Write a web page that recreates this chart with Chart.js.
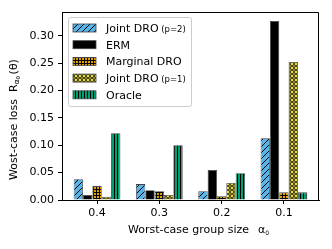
<!DOCTYPE html>
<html>
<head>
<meta charset="utf-8">
<script src="https://cdn.jsdelivr.net/npm/chart.js@4.4.0/dist/chart.umd.min.js"></script>
<style>
  html, body { margin: 0; padding: 0; background: #fff; }
  #wrap { width: 332px; height: 249px; }
</style>
</head>
<body>
<div id="wrap"><canvas id="myChart"></canvas></div>
<script>
// values
const groupSizes = ['0.4', '0.3', '0.2', '0.1'];
const seriesNames = ['Joint DRO (p=2)', 'ERM', 'Marginal DRO', 'Joint DRO (p=1)', 'Oracle'];
const jointDroP2 = [0.038, 0.029, 0.016, 0.113];
const erm = [0.009, 0.018, 0.055, 0.327];
const marginalDro = [0.026, 0.016, 0.007, 0.014];
const jointDroP1 = [0.006, 0.009, 0.031, 0.252];
const oracle = [0.122, 0.100, 0.049, 0.014];
const yTicks = [0, 0.05, 0.10, 0.15, 0.20, 0.25, 0.30];

Chart.defaults.font.family = 'DejaVu Sans';
Chart.defaults.color = '#000';

// hatch fills, like matplotlib hatches
function hatch(color, kind) {
  const s = kind === 'diag' ? 6 : (kind === 'ring' ? 4 : 3);
  const c = document.createElement('canvas');
  c.width = s; c.height = s;
  const g = c.getContext('2d');
  g.fillStyle = color;
  g.fillRect(0, 0, s, s);
  g.fillStyle = '#000';
  g.strokeStyle = '#000';
  g.lineWidth = 1;
  if (kind === 'diag') {
    g.beginPath();
    g.moveTo(-1, s + 1); g.lineTo(s + 1, -1);
    g.moveTo(-1, 1); g.lineTo(1, -1);
    g.moveTo(s - 1, s + 1); g.lineTo(s + 1, s - 1);
    g.stroke();
  } else if (kind === 'plus') {
    g.fillRect(0, 0, s, 1);
    g.fillRect(0, 0, 1, s);
  } else if (kind === 'vline') {
    g.fillRect(0, 0, 1, s);
  } else if (kind === 'ring') {
    g.lineWidth = 0.9;
    g.beginPath();
    g.arc(2, 2, 1.4, 0, Math.PI * 2);
    g.stroke();
  }
  return g.createPattern(c, 'repeat');
}

const fills = [
  hatch('#56B4E9', 'diag'),
  '#000000',
  hatch('#E69F00', 'plus'),
  hatch('#F0E442', 'ring'),
  hatch('#009E73', 'vline')
];
const allValues = [jointDroP2, erm, marginalDro, jointDroP1, oracle];

const datasets = allValues.map((vals, k) => ({
  label: seriesNames[k],
  data: vals.map((v, i) => ({ x: i, y: v })),
  backgroundColor: fills[k],
  borderColor: '#444',
  borderWidth: 0.8,
  categoryPercentage: 0.75,
  barPercentage: 1.0
}));

// box, axis labels and legend, drawn the matplotlib way
const extras = {
  id: 'extras',
  afterDraw(chart) {
    const ctx = chart.ctx;
    const a = chart.chartArea;
    ctx.save();
    ctx.strokeStyle = '#000';
    ctx.lineWidth = 1;
    ctx.beginPath();
    ctx.moveTo(a.left, a.top + 0.5);
    ctx.lineTo(a.right - 0.5, a.top + 0.5);
    ctx.lineTo(a.right - 0.5, a.bottom);
    ctx.stroke();

    ctx.fillStyle = '#000';
    ctx.textAlign = 'left';
    ctx.textBaseline = 'alphabetic';

    // x label
    ctx.font = '11px "DejaVu Sans"';
    let x = a.left + 66;
    const xl = 'Worst-case group size';
    ctx.fillText(xl, x, 233);
    x += ctx.measureText(xl).width + 9;
    ctx.fillText('α', x, 233);
    x += ctx.measureText('α').width;
    ctx.font = '6px "DejaVu Sans"';
    ctx.fillText('0', x, 235);

    // y label
    ctx.save();
    ctx.translate(16.5, 180);
    ctx.rotate(-Math.PI / 2);
    ctx.font = '11px "DejaVu Sans"';
    let p = 0;
    ctx.fillText('Wost-case loss', p, 0);
    p += ctx.measureText('Wost-case loss').width + 7;
    ctx.fillText('R', p, 0);
    p += ctx.measureText('R').width;
    ctx.font = '7.5px "DejaVu Sans"';
    ctx.fillText('α', p, 2);
    p += ctx.measureText('α').width;
    ctx.font = '5.5px "DejaVu Sans"';
    ctx.fillText('0', p, 3.5);
    p += ctx.measureText('0').width + 1.5;
    ctx.font = '11px "DejaVu Sans"';
    ctx.fillText('(θ)', p, 0);
    ctx.restore();

    // legend
    const lx = a.left + 6, ly = a.top + 5, lw = 123, lh = 89;
    ctx.fillStyle = 'rgba(255,255,255,0.8)';
    ctx.strokeStyle = '#cccccc';
    ctx.beginPath();
    ctx.roundRect(lx + 0.5, ly + 0.5, lw, lh, 2);
    ctx.fill();
    ctx.stroke();
    chart.data.datasets.forEach((ds, k) => {
      const cy = ly + 11 + k * 16.7;
      ctx.fillStyle = ds.backgroundColor;
      ctx.fillRect(lx + 5, cy - 4, 23, 8);
      ctx.strokeStyle = '#444';
      ctx.lineWidth = 0.8;
      ctx.strokeRect(lx + 5, cy - 4, 23, 8);
      ctx.fillStyle = '#000';
      const parts = ds.label.split(' (');
      ctx.font = '11px "DejaVu Sans"';
      ctx.fillText(parts[0], lx + 38, cy + 4);
      if (parts.length > 1) {
        const w = ctx.measureText(parts[0]).width;
        ctx.font = '8.5px "DejaVu Sans"';
        ctx.fillText(' (' + parts[1], lx + 38 + w, cy + 4);
      }
    });
    ctx.restore();
  }
};

const myChart = new Chart(document.getElementById('myChart'), {
  type: 'bar',
  data: { datasets: datasets },
  options: {
    responsive: true,
    maintainAspectRatio: false,
    animation: false,
    layout: { padding: { top: 12, right: 13, left: 0, bottom: 0 } },
    plugins: {
      legend: { display: false },
      tooltip: { enabled: false }
    },
    scales: {
      x: {
        type: 'linear',
        offset: false,
        min: -0.5625,
        max: 3.5625,
        afterBuildTicks: s => { s.ticks = groupSizes.map((g, i) => ({ value: i })); },
        afterFit: s => { s.height = 49; },
        grid: { drawOnChartArea: false, offset: false, tickLength: 4, tickColor: '#000' },
        border: { color: '#000', width: 1 },
        ticks: {
          font: { size: 11 },
          padding: 3,
          maxRotation: 0,
          callback: v => groupSizes[v]
        }
      },
      y: {
        min: 0,
        max: 0.3434,
        afterBuildTicks: s => { s.ticks = yTicks.map(v => ({ value: v })); },
        afterFit: s => { s.width = 62; },
        grid: { drawOnChartArea: false, tickLength: 4, tickColor: '#000' },
        border: { color: '#000', width: 1 },
        ticks: {
          font: { size: 11 },
          padding: 4,
          callback: v => v.toFixed(2)
        }
      }
    }
  },
  plugins: [extras]
});
</script>
</body>
</html>
